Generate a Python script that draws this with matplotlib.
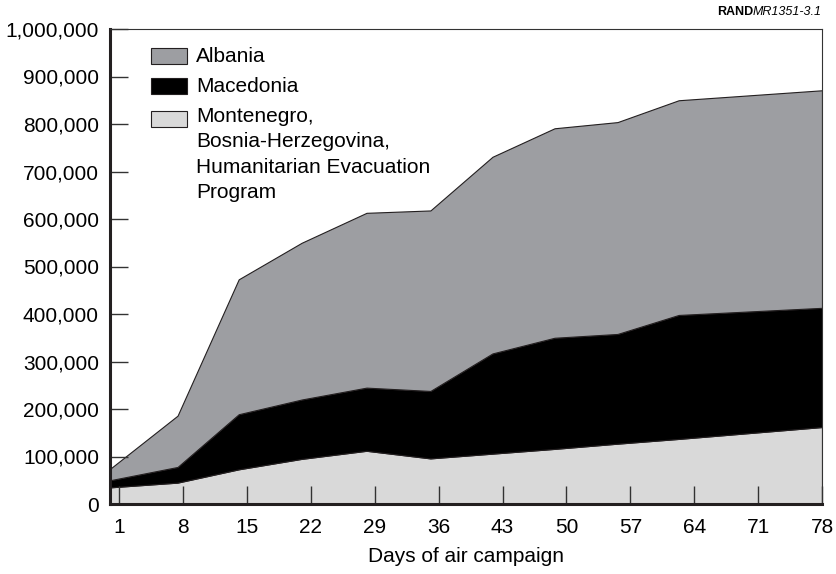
import matplotlib
matplotlib.use('Agg')
import matplotlib.pyplot as plt
from matplotlib.patches import Rectangle

plt.rcParams['font.family'] = ['Liberation Sans', 'DejaVu Sans']

# days at which the curves bend
days = [0, 7.4, 14.1, 21, 28.1, 35.1, 41.9, 48.7, 55.6, 62.3, 78]
# refugees, in thousands, per destination (stacked bottom to top)
montenegro = [35, 45, 73, 95, 112, 96, 106, 116, 127, 137, 162]
macedonia = [15, 33, 116, 125, 133, 142, 211, 234, 231, 261, 251]
albania = [24, 108, 284, 330, 368, 380, 414, 441, 446, 452, 458]

labels = ['Albania', 'Macedonia',
          'Montenegro,\nBosnia-Herzegovina,\nHumanitarian Evacuation\nProgram']
colors = ['#9d9ea2', '#000000', '#d9d9d9']
x_ticks = [1, 8, 15, 22, 29, 36, 43, 50, 57, 64, 71, 78]
y_ticks = list(range(0, 1000001, 100000))

dark = '#231f20'

fig = plt.figure(figsize=(8.36, 5.74), dpi=100)
ax = fig.add_axes([110/836, 1 - 504/574, 712/836, 475/574])

ys = [[v * 1000 for v in s] for s in (montenegro, macedonia, albania)]
ax.stackplot(days, ys, colors=[colors[2], colors[1], colors[0]],
             edgecolor=dark, linewidth=0.8)

ax.set_xlim(0, 78)
ax.set_ylim(0, 1000000)
ax.set_xticks(x_ticks)
ax.set_yticks(y_ticks)
ax.set_yticklabels(['{:,}'.format(v) for v in y_ticks])
ax.tick_params(axis='both', direction='in', length=13, width=1.0,
               color='#333333', labelsize=15, labelcolor='black')
ax.tick_params(axis='x', pad=10)
ax.tick_params(axis='y', pad=8)

for side in ['left', 'bottom']:
    ax.spines[side].set_linewidth(2.2)
    ax.spines[side].set_color(dark)
for side in ['top', 'right']:
    ax.spines[side].set_linewidth(0.8)
    ax.spines[side].set_color('#333333')

ax.set_xlabel('Days of air campaign', fontsize=15, labelpad=7)

# legend drawn by hand (pixel layout of the original)
def px(x, y):
    return (x - 110) / 712, (504 - y) / 475

legend_rows = [(48, 56, 0), (78, 87, 1), (111, 107, 2)]
for top, ty, i in legend_rows:
    x0, y0 = px(151, top + 16)
    ax.add_patch(Rectangle((x0, y0), 36 / 712, 16 / 475, transform=ax.transAxes,
                           facecolor=colors[i], edgecolor=dark, linewidth=0.8,
                           zorder=5))
    tx, tyy = px(196, ty)
    ax.text(tx, tyy, labels[i], transform=ax.transAxes, fontsize=15,
            va='top' if i == 2 else 'center', ha='left',
            linespacing=1.42, zorder=5)

# source tag
t1 = fig.text(822/836, 1 - 12/574, 'MR1351-3.1', fontsize=9, style='italic',
              ha='right', va='center')
fig.canvas.draw()
bb = t1.get_window_extent()
fig.text(bb.x0 / 836, 1 - 12/574, 'RAND', fontsize=9, fontweight='bold',
         ha='right', va='center')

fig.savefig('out.png', dpi=100)
